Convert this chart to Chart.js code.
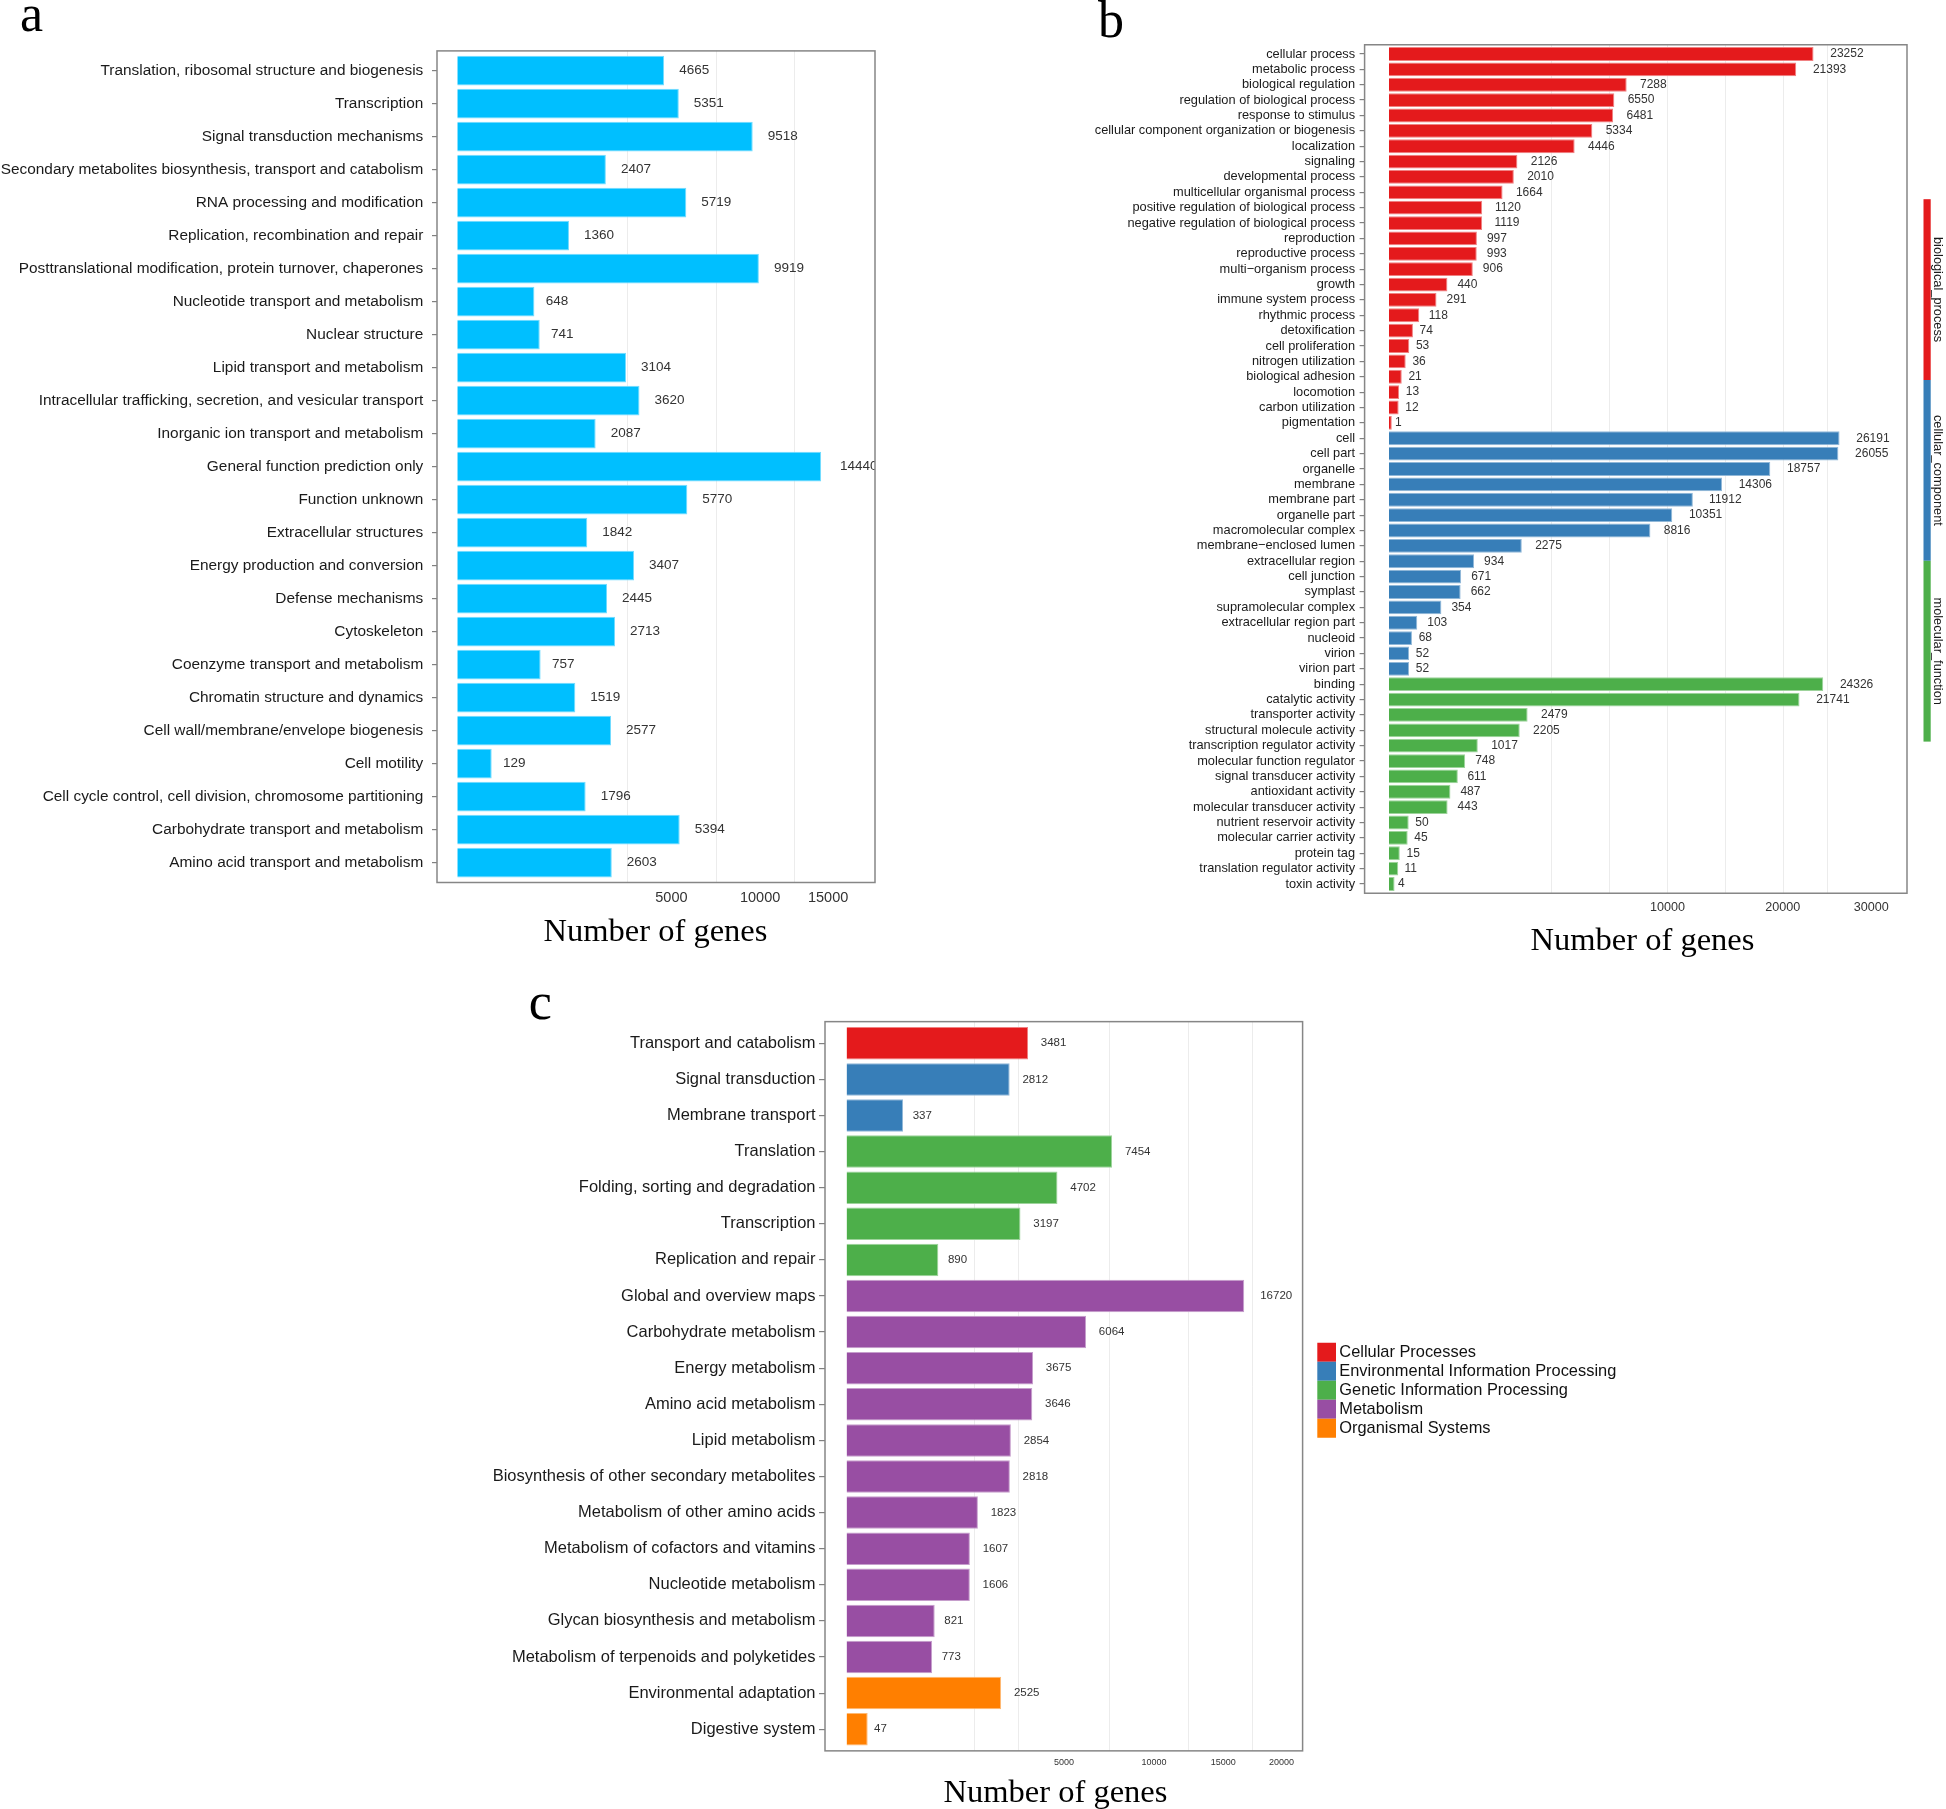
<!DOCTYPE html>
<html lang="en">
<head>
<meta charset="UTF-8">
<title>Functional annotation: COG, GO and KEGG</title>
<script src="https://cdn.jsdelivr.net/npm/chart.js@4"></script>
<style>
  body { margin: 0; background: #fff; }
  #wrap { position: relative; width: 1946px; height: 1809px; }
  canvas { position: absolute; }
</style>
</head>
<body>
<div id="wrap">
  <canvas id="chartA" width="960" height="960" style="left:0;top:0"></canvas>
  <canvas id="chartB" width="986" height="960" style="left:960px;top:0"></canvas>
  <canvas id="chartC" width="1946" height="849" style="left:0;top:960px"></canvas>
</div>
<script>
// ---- a: COG classes ----
const labelsA = [
  'Translation, ribosomal structure and biogenesis', 'Transcription', 'Signal transduction mechanisms',
  'Secondary metabolites biosynthesis, transport and catabolism', 'RNA processing and modification',
  'Replication, recombination and repair', 'Posttranslational modification, protein turnover, chaperones',
  'Nucleotide transport and metabolism', 'Nuclear structure', 'Lipid transport and metabolism',
  'Intracellular trafficking, secretion, and vesicular transport', 'Inorganic ion transport and metabolism',
  'General function prediction only', 'Function unknown', 'Extracellular structures',
  'Energy production and conversion', 'Defense mechanisms', 'Cytoskeleton', 'Coenzyme transport and metabolism',
  'Chromatin structure and dynamics', 'Cell wall/membrane/envelope biogenesis', 'Cell motility',
  'Cell cycle control, cell division, chromosome partitioning', 'Carbohydrate transport and metabolism',
  'Amino acid transport and metabolism'
];
const valuesA = [4665, 5351, 9518, 2407, 5719, 1360, 9919, 648, 741, 3104, 3620, 2087, 14440, 5770, 1842,
  3407, 2445, 2713, 757, 1519, 2577, 129, 1796, 5394, 2603];
const ticksA = [5000, 10000, 15000];
const gridA = [3150, 7290, 12380];

// ---- b: GO terms ----
const labelsB = [
  'cellular process', 'metabolic process', 'biological regulation', 'regulation of biological process',
  'response to stimulus', 'cellular component organization or biogenesis', 'localization', 'signaling',
  'developmental process', 'multicellular organismal process', 'positive regulation of biological process',
  'negative regulation of biological process', 'reproduction', 'reproductive process', 'multi\u2212organism process',
  'growth', 'immune system process', 'rhythmic process', 'detoxification', 'cell proliferation',
  'nitrogen utilization', 'biological adhesion', 'locomotion', 'carbon utilization', 'pigmentation',
  'cell', 'cell part', 'organelle', 'membrane', 'membrane part', 'organelle part', 'macromolecular complex',
  'membrane\u2212enclosed lumen', 'extracellular region', 'cell junction', 'symplast', 'supramolecular complex',
  'extracellular region part', 'nucleoid', 'virion', 'virion part',
  'binding', 'catalytic activity', 'transporter activity', 'structural molecule activity',
  'transcription regulator activity', 'molecular function regulator', 'signal transducer activity',
  'antioxidant activity', 'molecular transducer activity', 'nutrient reservoir activity',
  'molecular carrier activity', 'protein tag', 'translation regulator activity', 'toxin activity'
];
const valuesB = [23252, 21393, 7288, 6550, 6481, 5334, 4446, 2126, 2010, 1664, 1120, 1119, 997, 993, 906,
  440, 291, 118, 74, 53, 36, 21, 13, 12, 1,
  26191, 26055, 18757, 14306, 11912, 10351, 8816, 2275, 934, 671, 662, 354, 103, 68, 52, 52,
  24326, 21741, 2479, 2205, 1017, 748, 611, 487, 443, 50, 45, 15, 11, 4];
const groupsB = [
  'BP','BP','BP','BP','BP','BP','BP','BP','BP','BP','BP','BP','BP','BP','BP','BP','BP','BP','BP','BP','BP','BP','BP','BP','BP',
  'CC','CC','CC','CC','CC','CC','CC','CC','CC','CC','CC','CC','CC','CC','CC','CC',
  'MF','MF','MF','MF','MF','MF','MF','MF','MF','MF','MF','MF','MF','MF'
];
const stripB = ['biological_process', 'cellular_component', 'molecular_function'];
const ticksB = [10000, 20000, 30000];
const gridB = [3400, 6260, 10000, 14570, 20000, 24750];

// ---- c: KEGG pathways ----
const labelsC = [
  'Transport and catabolism', 'Signal transduction', 'Membrane transport', 'Translation',
  'Folding, sorting and degradation', 'Transcription', 'Replication and repair', 'Global and overview maps',
  'Carbohydrate metabolism', 'Energy metabolism', 'Amino acid metabolism', 'Lipid metabolism',
  'Biosynthesis of other secondary metabolites', 'Metabolism of other amino acids',
  'Metabolism of cofactors and vitamins', 'Nucleotide metabolism', 'Glycan biosynthesis and metabolism',
  'Metabolism of terpenoids and polyketides', 'Environmental adaptation', 'Digestive system'
];
const valuesC = [3481, 2812, 337, 7454, 4702, 3197, 890, 16720, 6064, 3675, 3646, 2854, 2818, 1823,
  1607, 1606, 821, 773, 2525, 47];
const classesC = ['Cellular Processes', 'Environmental Information Processing', 'Genetic Information Processing',
  'Metabolism', 'Organismal Systems'];
const groupsC = [0, 1, 1, 2, 2, 2, 2, 3, 3, 3, 3, 3, 3, 3, 3, 3, 3, 3, 4, 4];
const ticksC = [5000, 10000, 15000, 20000];
const gridC = [1710, 3120, 7280, 12350, 17400];

const xTitle = 'Number of genes';

// colours (RColorBrewer Set1)
const SET1 = ['#E41A1C', '#377EB8', '#4DAF4A', '#984EA3', '#FF7F00'];
const goColor = { BP: SET1[0], CC: SET1[1], MF: SET1[2] };

function tint(hex, f) {
  const n = parseInt(hex.slice(1), 16);
  const c = [n >> 16, (n >> 8) & 255, n & 255].map(v => Math.round(v + (255 - v) * f));
  return `rgb(${c[0]},${c[1]},${c[2]})`;
}

// square-root axis, like scale_x_sqrt
const sq = v => Math.sign(v) * Math.sqrt(Math.abs(v));
class SqrtScale extends Chart.LinearScale {
  static id = 'sqrt';
  getPixelForValue(value) {
    const a = sq(this.min), b = sq(this.max);
    return this.getPixelForDecimal((sq(value) - a) / (b - a));
  }
  getValueForPixel(pixel) {
    const a = sq(this.min), b = sq(this.max);
    const s = a + this.getDecimalForPixel(pixel) * (b - a);
    return Math.sign(s) * s * s;
  }
}
Chart.register(SqrtScale);

const SANS = "'Liberation Sans', Arial, sans-serif";
const SERIF = "'Liberation Serif', 'Times New Roman', serif";

// panel box, faint grid, value labels, axis title and panel letter
function decor(p) {
  const boxOf = chart => {
    const ca = chart.chartArea;
    const ext = (ca.bottom - ca.top) / chart.data.labels.length * 0.1;
    return { l: ca.left, t: ca.top - ext, r: ca.right, b: ca.bottom + ext };
  };
  return {
    id: 'decor',
    beforeDatasetsDraw(chart) {
      const { ctx, scales: { x } } = chart;
      const box = boxOf(chart);
      ctx.save();
      ctx.strokeStyle = '#ececec';
      ctx.lineWidth = 1;
      p.grid.forEach(v => {
        const px = Math.round(x.getPixelForValue(v)) + 0.5;
        ctx.beginPath();
        ctx.moveTo(px, box.t);
        ctx.lineTo(px, box.b);
        ctx.stroke();
      });
      ctx.restore();
    },
    afterDatasetsDraw(chart) {
      const { ctx } = chart;
      const box = boxOf(chart);
      const data = chart.data.datasets[0].data;
      ctx.save();
      ctx.beginPath();
      ctx.rect(box.l, box.t, box.r - box.l, box.b - box.t);
      ctx.clip();
      ctx.font = p.valueSize + 'px ' + SANS;
      ctx.fillStyle = '#333';
      ctx.textBaseline = 'middle';
      ctx.textAlign = 'left';
      chart.getDatasetMeta(0).data.forEach((bar, i) => {
        const s = String(data[i]);
        ctx.fillText(s, bar.x + ctx.measureText(s).width * 0.5, bar.y);
      });
      ctx.restore();

      ctx.save();
      ctx.strokeStyle = '#868686';
      ctx.lineWidth = 1.5;
      ctx.strokeRect(box.l, box.t, box.r - box.l, box.b - box.t);
      ctx.fillStyle = '#000';
      ctx.textBaseline = 'alphabetic';
      ctx.font = '32.5px ' + SERIF;
      ctx.textAlign = 'center';
      ctx.fillText(xTitle, p.titleX, p.titleY);
      ctx.font = '52px ' + SERIF;
      ctx.textAlign = 'left';
      ctx.fillText(p.letter, p.letterX, p.letterY);
      ctx.restore();
    }
  };
}

// GO category strip on the right of b
const goStrip = {
  id: 'goStrip',
  afterDraw(chart) {
    const { ctx } = chart;
    const top = 199.2, h = 180.8, x = 963.5;
    ctx.save();
    stripB.forEach((name, i) => {
      ctx.fillStyle = goColor[['BP', 'CC', 'MF'][i]];
      ctx.fillRect(x, top + i * h, 7.2, h);
      ctx.save();
      ctx.translate(977.8, top + i * h + h / 2);
      ctx.rotate(Math.PI / 2);
      ctx.font = '12.8px ' + SANS;
      ctx.fillStyle = '#1a1a1a';
      ctx.textAlign = 'center';
      ctx.textBaseline = 'middle';
      ctx.fillText(name, 0, 0);
      ctx.restore();
    });
    ctx.restore();
  }
};

// KEGG class legend for c
const keggLegend = {
  id: 'keggLegend',
  afterDraw(chart) {
    const { ctx, chartArea: ca } = chart;
    const mid = (ca.top + ca.bottom) / 2;
    const row = 19;
    const y0 = mid - classesC.length * row / 2 + 4;
    const x0 = ca.right + 14.7;
    ctx.save();
    ctx.font = '16.4px ' + SANS;
    ctx.textBaseline = 'middle';
    ctx.textAlign = 'left';
    classesC.forEach((name, i) => {
      ctx.fillStyle = SET1[i];
      ctx.fillRect(x0, y0 + i * row, 18.7, row);
      ctx.fillStyle = '#111';
      ctx.fillText(name, x0 + 22, y0 + i * row + row / 2 + 0.5);
    });
    ctx.restore();
  }
};

function makeChart(id, p, extra) {
  return new Chart(document.getElementById(id), {
    type: 'bar',
    data: {
      labels: p.labels,
      datasets: [{
        data: p.values,
        backgroundColor: p.colors,
        borderColor: p.colors.map(c => tint(c, 0.45)),
        borderWidth: 1,
        barPercentage: 0.9,
        categoryPercentage: 1
      }]
    },
    options: {
      indexAxis: 'y',
      responsive: false,
      animation: false,
      devicePixelRatio: 1,
      layout: { padding: p.padding },
      plugins: { legend: { display: false }, tooltip: { enabled: false } },
      scales: {
        x: {
          type: 'sqrt',
          min: p.min,
          max: p.max,
          bounds: 'data',
          grid: { display: false, drawTicks: false },
          border: { display: false },
          afterBuildTicks: s => { s.ticks = p.ticks.map(v => ({ value: v })); },
          afterFit: s => { s.height = p.xHeight; },
          ticks: {
            callback: v => String(v),
            autoSkip: false,
            maxRotation: 0,
            font: { family: SANS, size: p.tickSize },
            color: '#333',
            padding: p.tickPad
          }
        },
        y: {
          grid: { drawOnChartArea: false, drawTicks: true, offset: false, tickLength: p.tickLen, color: '#808080', lineWidth: 1.2 },
          border: { display: false },
          afterFit: s => { s.width = p.yWidth; },
          ticks: {
            autoSkip: false,
            font: { family: SANS, size: p.labelSize },
            color: '#1a1a1a',
            padding: p.labelPad
          }
        }
      }
    },
    plugins: [decor(p)].concat(extra)
  });
}

makeChart('chartA', {
  labels: labelsA, values: valuesA, colors: valuesA.map(() => '#00BFFF'),
  ticks: ticksA, grid: gridA, min: -45, max: 19030,
  padding: { left: 0, top: 54.2, right: 85, bottom: 0 },
  yWidth: 437, xHeight: 80.8,
  tickSize: 14.5, tickPad: 10.1, labelSize: 15.4, labelPad: 8.7, tickLen: 5, valueSize: 13.5,
  titleX: 655.5, titleY: 941,
  letter: 'a', letterX: 20, letterY: 31
}, []);

makeChart('chartB', {
  labels: labelsB, values: valuesB, colors: groupsB.map(g => goColor[g]),
  ticks: ticksB, grid: gridB, min: -76.8, max: 34619,
  padding: { left: 0, top: 46.3, right: 39, bottom: 0 },
  yWidth: 404.6, xHeight: 68.3,
  tickSize: 12.6, tickPad: 8.4, labelSize: 12.8, labelPad: 4.5, tickLen: 5, valueSize: 12,
  titleX: 682.5, titleY: 949.5,
  letter: 'b', letterX: 138, letterY: 36.7
}, [goStrip]);

makeChart('chartC', {
  labels: labelsC, values: valuesC, colors: groupsC.map(g => SET1[g]),
  ticks: ticksC, grid: gridC, min: -49.3, max: 21990,
  padding: { left: 0, top: 65.25, right: 643.4, bottom: 0 },
  yWidth: 825, xHeight: 61.75,
  tickSize: 9, tickPad: 10.3, labelSize: 16.5, labelPad: 3.5, tickLen: 6, valueSize: 11.5,
  titleX: 1055.5, titleY: 842,
  letter: 'c', letterX: 528.8, letterY: 59.3
}, [keggLegend]);
</script>
</body>
</html>
